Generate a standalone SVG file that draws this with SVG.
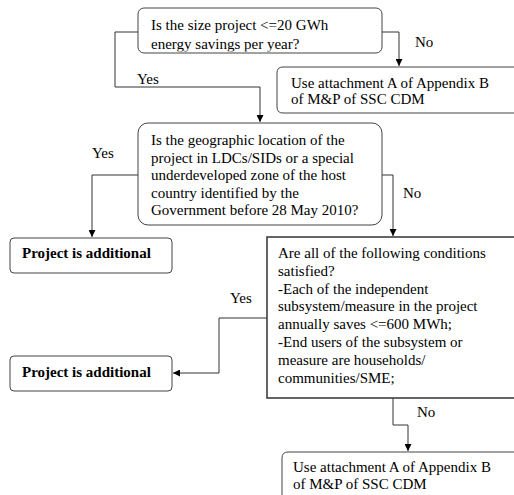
<svg xmlns="http://www.w3.org/2000/svg" width="514" height="495" viewBox="0 0 514 495">
<style>
.t{font-family:"Liberation Serif","Times New Roman",serif;font-size:15px;fill:#000}
.b{font-weight:bold}
.box{fill:#fff;stroke:#444;stroke-width:1}
.sq{fill:#fff;stroke:#333;stroke-width:1.5}
.c{fill:none;stroke:#333;stroke-width:1}
</style>
<defs>
<marker id="arr" viewBox="0 0 10 10" refX="10" refY="5" markerWidth="7" markerHeight="7" markerUnits="userSpaceOnUse" orient="auto"><path d="M0,0 L10,5 L0,10 z" fill="#000"/></marker>
<clipPath id="c1"><rect x="138" y="8" width="244" height="43.5"/></clipPath>
<clipPath id="c2"><rect x="130" y="60" width="60" height="25.5"/></clipPath>
</defs>
<g id="connectors">
<path class="c" d="M138,32 H115 V87 H260 V122" marker-end="url(#arr)"/>
<path class="c" d="M382,32 H399 V66" marker-end="url(#arr)"/>
<path class="c" d="M138,175 H92 V237" marker-end="url(#arr)"/>
<path class="c" d="M382,175 H393 V236" marker-end="url(#arr)"/>
<path class="c" d="M267,318 H219 V373 H173" marker-end="url(#arr)"/>
<path class="c" d="M393,398 V425 H408 V451" marker-end="url(#arr)"/>
<text class="t" x="137" y="84" clip-path="url(#c2)">Yes</text>
<text class="t" x="415" y="47">No</text>
<text class="t" x="92" y="158">Yes</text>
<text class="t" x="403" y="198">No</text>
<text class="t" x="230" y="303">Yes</text>
<text class="t" x="417" y="417">No</text>
</g>
<g id="q1">
<rect class="box" x="138" y="8" width="244" height="45" rx="6"/>
<g clip-path="url(#c1)">
<text class="t" x="151" y="30">Is the size project &lt;=20 GWh</text>
<text class="t" x="151" y="48.5">energy savings per year?</text>
</g>
</g>
<g id="attA1">
<path class="box" d="M515,67 H283 Q277,67 277,73 V107 Q277,113 283,113 H515"/>
<text class="t" x="291" y="88">Use attachment A of Appendix B</text>
<text class="t" x="291" y="104">of M&amp;P of SSC CDM</text>
</g>
<g id="q2">
<rect class="box" x="138" y="123" width="244" height="102" rx="10"/>
<text class="t" x="151" y="145">Is the geographic location of the</text>
<text class="t" x="151" y="162.5">project in LDCs/SIDs or a special</text>
<text class="t" x="151" y="180">underdeveloped zone of the host</text>
<text class="t" x="151" y="197.5">country identified by the</text>
<text class="t" x="151" y="215">Government before 28 May 2010?</text>
</g>
<g id="add1">
<rect class="box" x="10" y="238" width="162" height="35" rx="4"/>
<text class="t b" x="22" y="258">Project is additional</text>
</g>
<g id="q3">
<path class="sq" d="M515,237 H267 V398 H515"/>
<text class="t" x="278" y="258">Are all of the following conditions</text>
<text class="t" x="278" y="275.8">satisfied?</text>
<text class="t" x="278" y="293.6">-Each of the independent</text>
<text class="t" x="278" y="311.4">subsystem/measure in the project</text>
<text class="t" x="278" y="329.2">annually saves &lt;=600 MWh;</text>
<text class="t" x="278" y="347">-End users of the subsystem or</text>
<text class="t" x="278" y="364.8">measure are households/</text>
<text class="t" x="278" y="382.6">communities/SME;</text>
</g>
<g id="add2">
<rect class="box" x="10" y="356" width="162" height="35" rx="4"/>
<text class="t b" x="22" y="377">Project is additional</text>
</g>
<g id="attA2">
<path class="box" d="M515,452 H288 Q282,452 282,458 V496"/>
<text class="t" x="293" y="472">Use attachment A of Appendix B</text>
<text class="t" x="293" y="489">of M&amp;P of SSC CDM</text>
</g>
</svg>
